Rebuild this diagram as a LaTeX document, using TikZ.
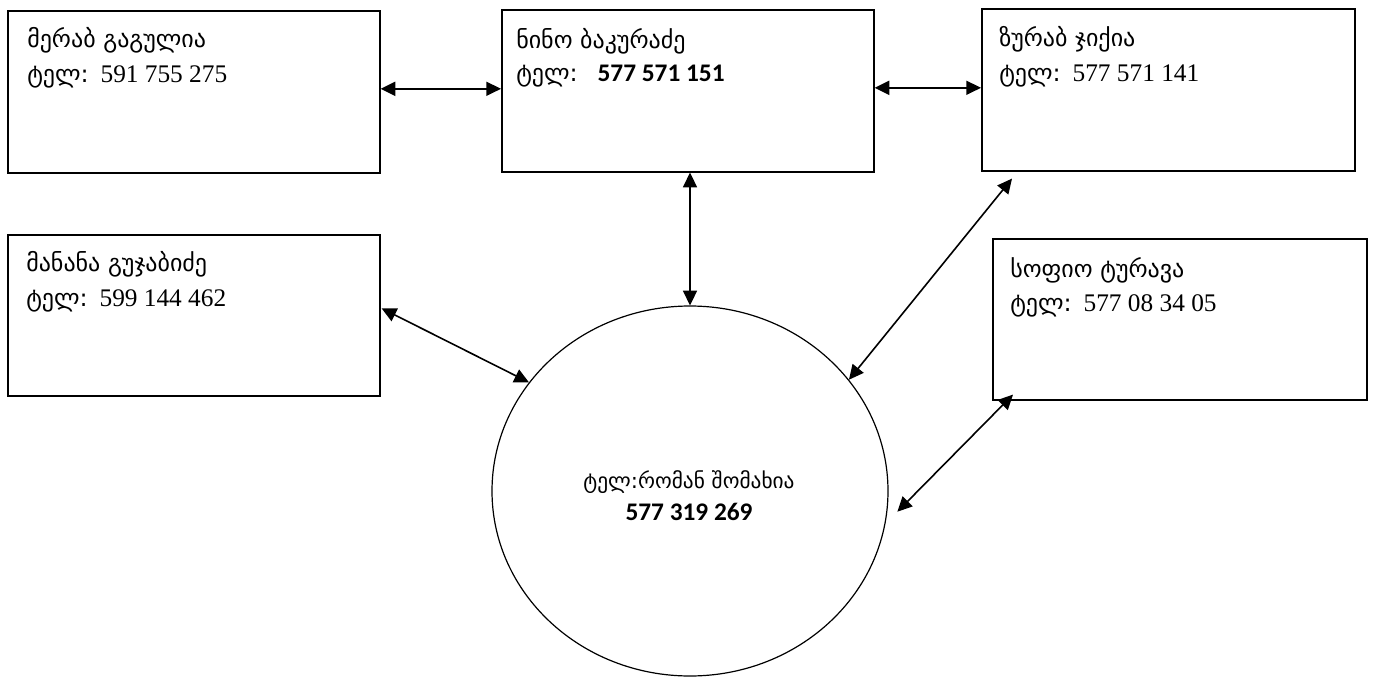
\documentclass[tikz,border=0pt]{standalone}
\usepackage{fontspec}
\usetikzlibrary{arrows.meta,shapes.geometric,calc}
\newfontfamily\geo{DejaVu Sans}
\newfontfamily\serifnum{Liberation Serif}
\newfontfamily\sansnum{Carlito}
\newcommand{\tel}[1][55pt]{\makebox[#1][l]{\geo ტელ:}}
\begin{document}
\begin{tikzpicture}[x=0.75pt,y=-0.75pt,
  box/.style={draw, line width=1.2pt, rectangle, inner sep=0pt, anchor=north west},
  hub/.style={draw, line width=0.9pt, ellipse, inner sep=0pt},
  txt/.style={anchor=base west, inner sep=0pt, font=\fontsize{18pt}{21pt}\geo},
  ctxt/.style={anchor=base, inner sep=0pt},
  arr/.style={{Triangle[length=11pt,width=10.5pt]}-{Triangle[length=11pt,width=10.5pt]}, line width=1.2pt}]
\fill[white] (0,0) rectangle (1374,678);
\useasboundingbox (0,0) rectangle (1374,678);

% boxes
\node[box, minimum width=279pt, minimum height=121.5pt] (b1) at (7,10) {};
\node[box, minimum width=279pt, minimum height=121.5pt] (b2) at (501,9) {};
\node[box, minimum width=279.75pt, minimum height=121.5pt] (b3) at (981,8) {};
\node[box, minimum width=279pt, minimum height=120.75pt] (b4) at (7,234) {};
\node[box, minimum width=280.5pt, minimum height=120.75pt] (b5) at (992,238) {};
\node[hub, minimum width=297pt, minimum height=277.5pt] (c) at (690,491) {};

% texts
\node[txt] (t1a) at (27,47) {მერაბ გაგულია};
\node[txt] (t1b) at (27,82) {\tel{\fontsize{19pt}{22pt}\serifnum 591 755 275}};
\node[txt] (t2a) at (516,48) {ნინო ბაკურაძე};
\node[txt] (t2b) at (516,81) {\tel[61pt]{\fontsize{19pt}{22pt}\sansnum\bfseries 577 571 151}};
\node[txt] (t3a) at (999,46) {ზურაბ ჯიქია};
\node[txt] (t3b) at (999,81) {\tel{\fontsize{19pt}{22pt}\serifnum 577 571 141}};
\node[txt] (t4a) at (26,271) {მანანა გუჯაბიძე};
\node[txt] (t4b) at (26,306) {\tel{\fontsize{19pt}{22pt}\serifnum 599 144 462}};
\node[txt] (t5a) at (1010,277) {სოფიო ტურავა};
\node[txt] (t5b) at (1010,311) {\tel{\fontsize{19pt}{22pt}\serifnum 577 08 34 05}};
\node[ctxt, font=\fontsize{16pt}{19pt}\geo] (c1) at (689,488) {ტელ:რომან შომახია};
\node[ctxt, font=\fontsize{19pt}{22pt}\sansnum\bfseries] (c2) at (689,520) {577 319 269};

% connector end points
\coordinate (a1) at ([yshift=2.25pt]b1.east);
\coordinate (a2) at ([yshift=2.25pt]b2.east);
\coordinate (z1) at ($(b3.south west)+(31,7)$);
\coordinate (s1) at ($(b5.south west)+(21,-6)$);
\coordinate (s2) at ($(c.-6)+(10,0)$);
\coordinate (m1) at ($(b4.east)+(1,-7)$);

% connectors
\draw[arr] (a1) -- (a1 -| b2.west);
\draw[arr] (a2) -- (a2 -| b3.west);
\draw[arr] (c.north) -- (c.north |- b2.south);
\draw[arr] (z1) -- (c.35);
\draw[arr] (s1) -- (s2);
\draw[arr] (m1) -- (c.146);
\end{tikzpicture}
\end{document}
